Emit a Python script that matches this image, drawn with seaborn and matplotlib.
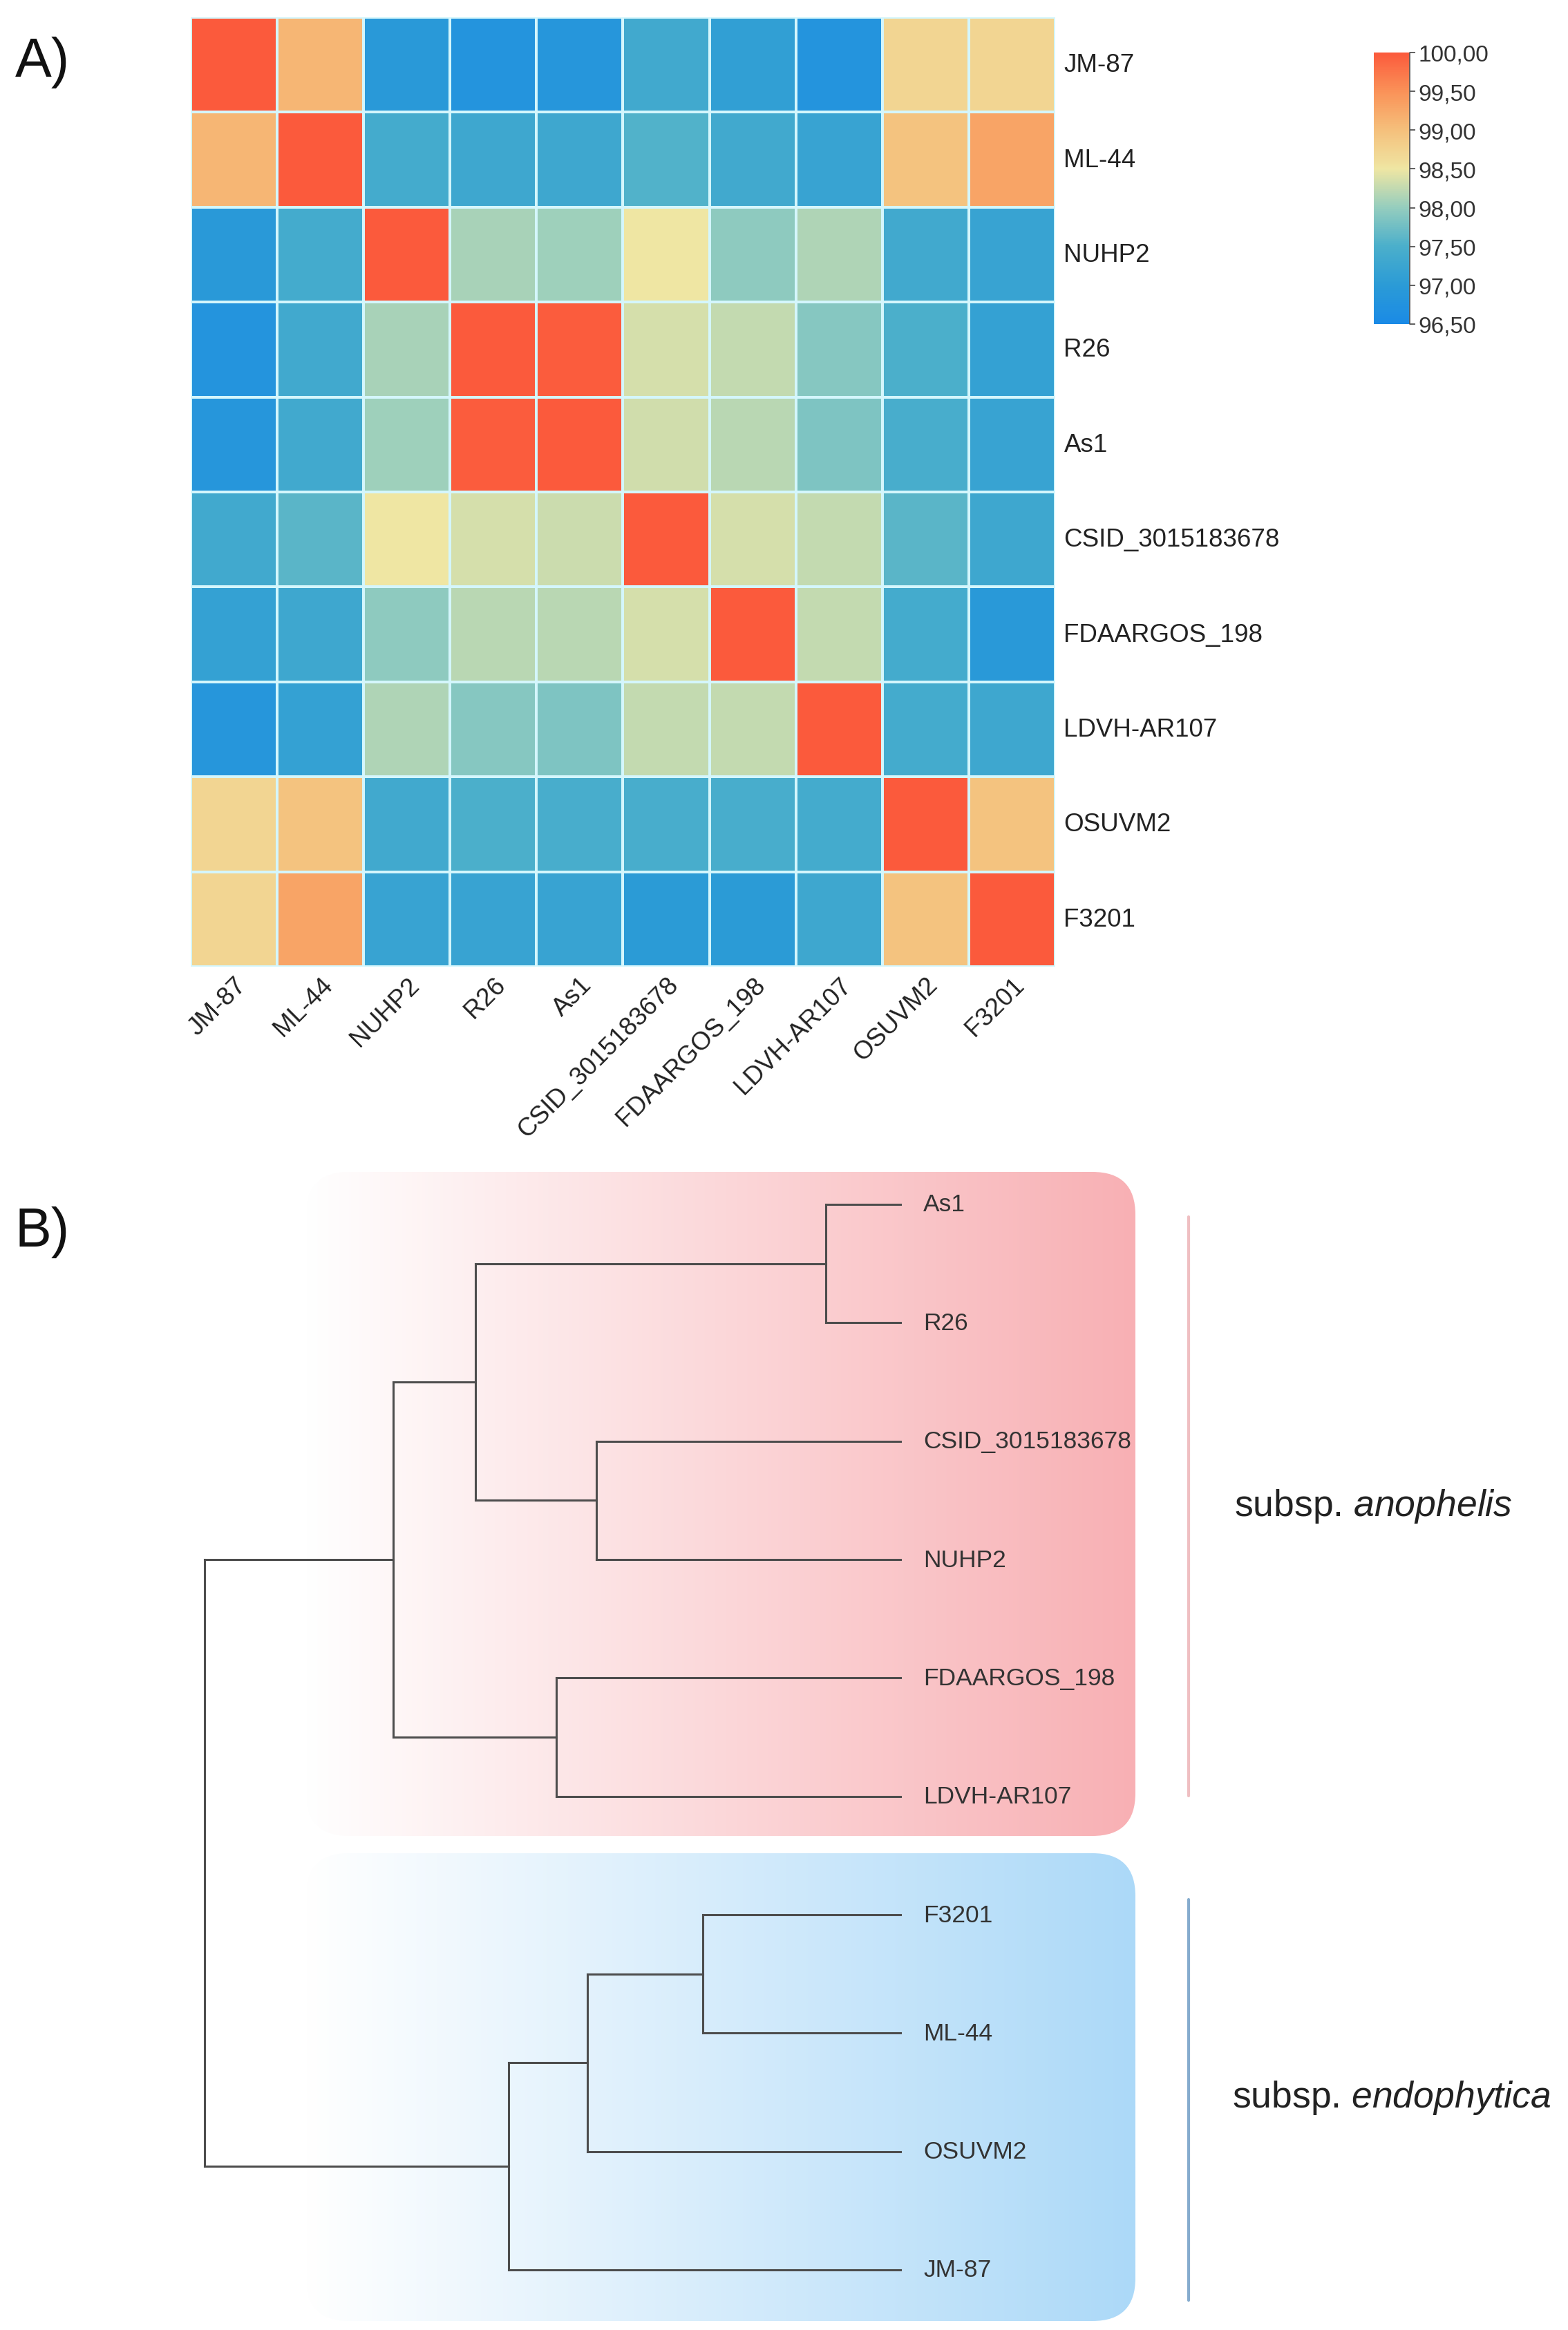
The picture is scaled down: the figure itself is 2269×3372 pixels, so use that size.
import numpy as np
import pandas as pd
import seaborn as sns
import matplotlib.pyplot as plt
import matplotlib.ticker as ticker
from matplotlib.colors import LinearSegmentedColormap, to_rgb
from matplotlib.patches import FancyBboxPatch

# ---------------- data ----------------
strains = ["JM-87", "ML-44", "NUHP2", "R26", "As1", "CSID_3015183678",
           "FDAARGOS_198", "LDVH-AR107", "OSUVM2", "F3201"]

ani_jm87 = [100.0, 99.10, 96.95, 96.80, 96.85, 97.35, 97.10, 96.80, 98.72, 98.72]
ani_ml44 = [99.10, 100.0, 97.40, 97.30, 97.30, 97.55, 97.35, 97.20, 98.95, 99.30]
ani_nuhp2 = [96.95, 97.40, 100.0, 98.10, 98.05, 98.50, 97.95, 98.15, 97.35, 97.20]
ani_r26 = [96.80, 97.35, 98.10, 100.0, 99.98, 98.35, 98.25, 97.90, 97.50, 97.15]
ani_as1 = [96.85, 97.35, 98.05, 99.98, 100.0, 98.32, 98.20, 97.85, 97.45, 97.20]
ani_csid = [97.35, 97.60, 98.50, 98.35, 98.30, 100.0, 98.35, 98.25, 97.60, 97.30]
ani_fda = [97.15, 97.30, 97.95, 98.20, 98.20, 98.35, 100.0, 98.25, 97.40, 96.95]
ani_ldvh = [96.85, 97.15, 98.15, 97.90, 97.85, 98.25, 98.25, 100.0, 97.40, 97.30]
ani_osuvm2 = [98.72, 98.95, 97.35, 97.50, 97.45, 97.45, 97.45, 97.40, 100.0, 98.95]
ani_f3201 = [98.72, 99.30, 97.20, 97.20, 97.20, 97.00, 97.00, 97.30, 98.95, 100.0]

cbar_ticks = [96.5, 97.0, 97.5, 98.0, 98.5, 99.0, 99.5, 100.0]

# dendrogram: leaves top to bottom, merges as (left, right, depth); tips at depth 1
tree_leaves = ["As1", "R26", "CSID_3015183678", "NUHP2", "FDAARGOS_198",
               "LDVH-AR107", "F3201", "ML-44", "OSUVM2", "JM-87"]
merge_left = [0, 2, 4, 10, 13, 6, 15, 16, 14]
merge_right = [1, 3, 5, 11, 12, 7, 8, 9, 17]
merge_depth = [0.893, 0.563, 0.505, 0.389, 0.271, 0.716, 0.550, 0.437, 0.0]
leaf_depth = 1.0

# ---------------- style ----------------
sns.set_style("white")
plt.rcParams['font.family'] = ['Liberation Sans', 'DejaVu Sans']
plt.rcParams['mathtext.fontset'] = 'custom'
plt.rcParams['mathtext.rm'] = 'Liberation Sans'
plt.rcParams['mathtext.it'] = 'Liberation Sans:italic'

W, H = 2269, 3373
fig = plt.figure(figsize=(W / 100, H / 100), dpi=100)

# background axes in figure pixels (boxes, brackets, panel letters)
bg = fig.add_axes([0, 0, 1, 1], zorder=0)
bg.set_xlim(0, W)
bg.set_ylim(H, 0)
bg.axis('off')

# ---------------- A) heatmap ----------------
ani = pd.DataFrame([ani_jm87, ani_ml44, ani_nuhp2, ani_r26, ani_as1, ani_csid,
                    ani_fda, ani_ldvh, ani_osuvm2, ani_f3201],
                   index=strains, columns=strains)

cmap = LinearSegmentedColormap.from_list("ani", [
    (0.0, "#1a8ae6"), (1 / 7, "#2b9bd6"), (2 / 7, "#4bafcb"), (3 / 7, "#95cdbe"),
    (4 / 7, "#efe6a3"), (5 / 7, "#f5c07c"), (6 / 7, "#fa9258"), (1.0, "#fb5a3c")])

ax_hm = fig.add_axes([276 / W, 1 - 1400 / H, 1251 / W, 1374 / H], zorder=1)
cax = fig.add_axes([1988 / W, 1 - 470 / H, 52 / W, 393 / H], zorder=1)

sns.heatmap(ani, ax=ax_hm, cmap=cmap, vmin=96.5, vmax=100, cbar_ax=cax,
            linewidths=1.5, linecolor='#d4f6fc',
            xticklabels=True, yticklabels=True,
            cbar_kws={'ticks': cbar_ticks})

ax_hm.yaxis.tick_right()
ax_hm.tick_params(axis='both', length=0, labelsize=26.5, colors='#222222')
ax_hm.tick_params(axis='y', pad=9)
ax_hm.tick_params(axis='x', pad=6)
plt.setp(ax_hm.get_yticklabels(), rotation=0, va='center')
plt.setp(ax_hm.get_xticklabels(), rotation=45, ha='right', rotation_mode='anchor')

cbar = ax_hm.collections[0].colorbar
cbar.outline.set_visible(False)
cax.plot([1, 1], [0, 1], transform=cax.transAxes, color='#555555', lw=1.2, clip_on=False)
cax.yaxis.set_major_formatter(ticker.FuncFormatter(lambda v, p: f"{v:.2f}".replace('.', ',')))
cax.tick_params(axis='y', length=6, width=1.2, color='#444444', labelsize=24,
                labelcolor='#333333', pad=3, direction='out')

# ---------------- B) dendrogram ----------------
tree_top_px = 1650
x_root_px, x_tip_px = 296, 1303
y_first_px, y_last_px = 1744, 3286
sx = (x_tip_px - x_root_px) / leaf_depth
sy = (y_last_px - y_first_px) / (len(tree_leaves) - 1)

ax_tr = fig.add_axes([0, 0, 1, (H - tree_top_px) / H], zorder=2)
ax_tr.patch.set_alpha(0)
ax_tr.set_xlim(-x_root_px / sx, (W - x_root_px) / sx)
ax_tr.set_ylim((H - y_first_px) / sy, (tree_top_px - y_first_px) / sy)
ax_tr.axis('off')

node_x = [leaf_depth] * len(tree_leaves)
node_y = list(range(len(tree_leaves)))
line_kw = dict(color='#4d4d4d', lw=2.2, solid_capstyle='projecting')
for a, b, d in zip(merge_left, merge_right, merge_depth):
    ax_tr.plot([d, d], [node_y[a], node_y[b]], **line_kw)
    ax_tr.plot([d, node_x[a]], [node_y[a], node_y[a]], **line_kw)
    ax_tr.plot([d, node_x[b]], [node_y[b], node_y[b]], **line_kw)
    node_x.append(d)
    node_y.append((node_y[a] + node_y[b]) / 2)

for i, name in enumerate(tree_leaves):
    ax_tr.annotate(name, (leaf_depth, i), xytext=(24, 0), textcoords='offset points',
                   ha='left', va='center', fontsize=25.5, color='#333333')


def gradient_box(x0, y0, x1, y1, colour):
    box = FancyBboxPatch((x0, y0), x1 - x0, y1 - y0,
                         boxstyle="round,pad=0,rounding_size=62",
                         facecolor='none', edgecolor='none')
    bg.add_patch(box)
    t = np.linspace(0, 1, 512)[None, :, None]
    rgb = np.array([1.0, 1.0, 1.0]) * (1 - t) + np.array(to_rgb(colour)) * t
    im = bg.imshow(rgb, extent=(x0, x1, y1, y0), aspect='auto', interpolation='bilinear')
    im.set_clip_path(box)


gradient_box(443, 1697, 1643, 2658, '#f8b0b4')
gradient_box(443, 2683, 1643, 3360, '#acd9f8')

bg.plot([1720, 1720], [1762, 2600], color='#efbfc2', lw=3)
bg.plot([1720, 1720], [2750, 3330], color='#86acce', lw=3)

bg.text(1786, 2180, r"subsp. $\it{anophelis}$", fontsize=38.5, color='#222222',
        ha='left', va='center')
bg.text(1783, 3036, r"subsp. $\it{endophytica}$", fontsize=38.5, color='#222222',
        ha='left', va='center')

bg.text(22, 90, "A)", fontsize=57, color='#111111', ha='left', va='center')
bg.text(22, 1784, "B)", fontsize=57, color='#111111', ha='left', va='center')

fig.savefig("out.png", dpi=100, facecolor='white')
